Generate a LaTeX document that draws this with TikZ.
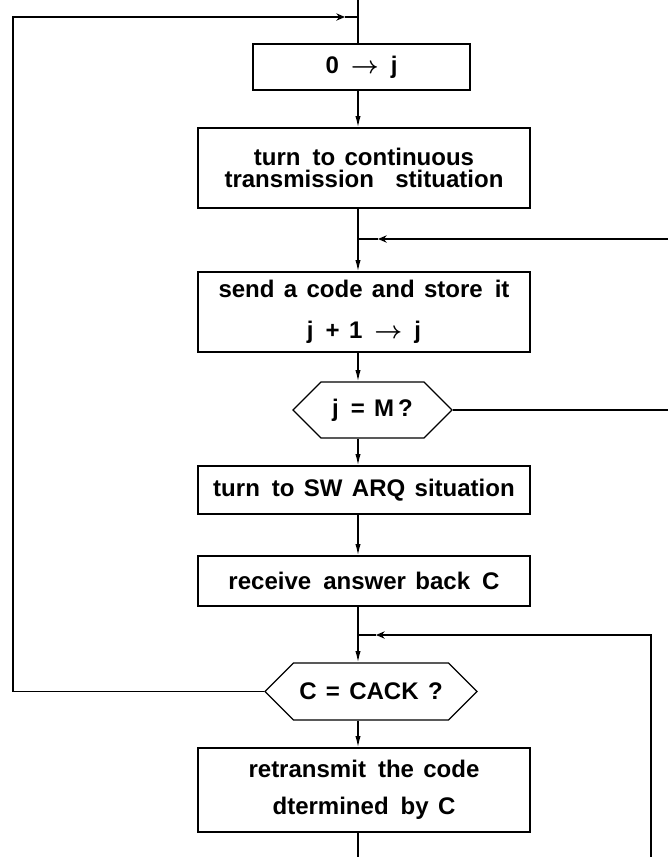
\documentclass[tikz,border=0pt]{standalone}
\usepackage{fontspec}
\setmainfont{Liberation Sans}[WordSpace=1.4]
\usetikzlibrary{arrows.meta, shapes.symbols, positioning}
\newcommand{\goesto}{{\boldmath$\rightarrow$}}
\tikzset{
  % scanned flowchart: plain black lines, thin long heads on the main flow
  every picture/.append style = {line width=1.1pt},
  flow/.style   = {-{Latex[length=3.4mm, width=1.6mm]}},
  back/.style   = {-{Stealth[length=2.6mm, width=2.2mm]}},
  txt/.style    = {font=\fontsize{20.5}{19}\selectfont\bfseries},
  box/.style    = {draw, rectangle, align=center, inner sep=0pt, txt},
  test/.style   = {draw, signal, signal to=west and east, signal pointer angle=90,
                   inner sep=0pt, txt},
}

\begin{document}
\begin{tikzpicture}[x=0.03cm, y=-0.03cm]
  \useasboundingbox (0,0) rectangle (668,857);
  \coordinate (axis) at (358,0);
  % --- main column -------------------------------------------------------
  \node[box, minimum width=6.51cm, minimum height=1.38cm] (init) at (361.5,67)
    {0\enspace \goesto\enspace j};
  \node[box, minimum width=9.96cm, minimum height=2.4cm] (cont) at (364,168)
    {turn\enspace to continuous\\transmission\enspace\ stituation};
  \node[box, minimum width=9.96cm, minimum height=2.4cm] (send) at (364,312)
    {send a code and store\enspace it\\[16pt]j\enspace + 1\enspace \goesto\enspace j};
  \node[test, minimum width=4.77cm, minimum height=1.68cm] (full) at (372.5,410)
    {j\enspace = M\,?};
  \node[box, minimum width=9.96cm, minimum height=1.44cm] (swarq) at (364,490)
    {turn\enspace to SW ARQ situation};
  \node[box, minimum width=9.96cm, minimum height=1.5cm] (recv) at (364,581)
    {receive\enspace answer back\enspace C};
  \node[test, minimum width=6.36cm, minimum height=1.71cm] (ack) at (371,691.5)
    {C = CACK ?};
  \node[box, minimum width=9.96cm, minimum height=2.52cm] (retx) at (364,790)
    {retransmit\enspace the code\\[13pt]dtermined\enspace by C};
  % --- downward flow -----------------------------------------------------
  \draw (axis) -- (axis |- init.north);
  \draw[flow] (axis |- init.south) -- (axis |- cont.north);
  \draw[flow] (axis |- cont.south) -- (axis |- send.north);
  \draw[flow] (axis |- send.south) -- (axis |- full.north);
  \draw[flow] (axis |- full.south) -- (axis |- swarq.north);
  \draw[flow] (axis |- swarq.south) -- (axis |- recv.north);
  \draw[flow] (axis |- recv.south) -- (axis |- ack.north);
  \draw[flow] (axis |- ack.south) -- (axis |- retx.north);
  \coordinate (bottom) at (358,857);
  \draw (axis |- retx.south) -- (bottom);
  % --- loop back to the top ------------------------------------------------
  \coordinate (loopL) at (13,17);
  \coordinate (join1) at (axis |- loopL);
  \draw[back] (ack.west) -| (loopL) -- ([xshift=-0.39cm]join1);
  \draw ([xshift=-0.39cm]join1) -- (join1);
  % --- loops from the right edge ------------------------------------------
  \coordinate (rtop) at (668,239);
  \coordinate (join2) at (axis |- rtop);
  \draw[back] (rtop) -- ([xshift=0.6cm]join2);
  \draw ([xshift=0.6cm]join2) -- (join2);
  \coordinate (rmid) at (668,410);
  \draw (full.east) -- (rmid);
  \coordinate (rbot) at (651,857);
  \coordinate (join3) at (358,635);
  \draw[back] (rbot) |- ([xshift=0.54cm]join3);
  \draw ([xshift=0.54cm]join3) -- (join3);
\end{tikzpicture}
\end{document}
